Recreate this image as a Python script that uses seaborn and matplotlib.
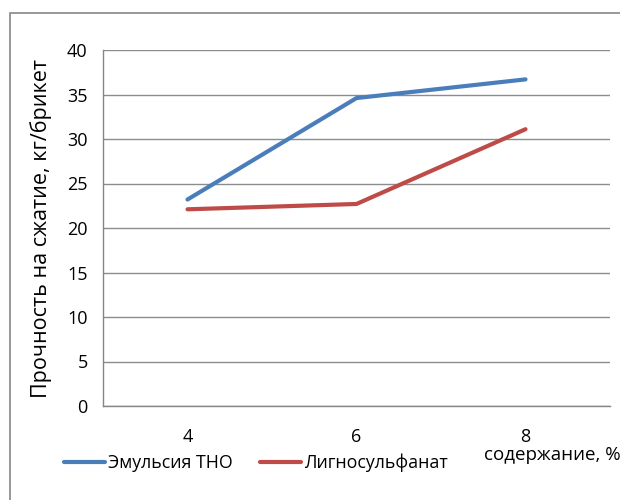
import matplotlib
matplotlib.use("Agg")
import matplotlib.pyplot as plt
import seaborn as sns
import pandas as pd
from matplotlib.patches import Rectangle
from matplotlib.lines import Line2D

categories = ["4", "6", "8"]
emulsion = [23.2, 34.6, 36.7]
lignosulfonate = [22.1, 22.7, 31.1]
series_names = ["Эмульсия ТНО", "Лигносульфанат"]
colors = ["#4a7ebb", "#be4b48"]

df = pd.DataFrame({
    "x": list(range(len(categories))) * 2,
    "y": emulsion + lignosulfonate,
    "s": [series_names[0]] * 3 + [series_names[1]] * 3,
})

sns.set_style("white")
plt.rcParams["font.family"] = ["Open Sans", "DejaVu Sans"]
plt.rcParams["text.color"] = "black"
plt.rcParams["axes.labelcolor"] = "black"
plt.rcParams["xtick.color"] = "black"
plt.rcParams["ytick.color"] = "black"

fig = plt.figure(figsize=(6.2, 5), dpi=100)
ax = fig.add_axes([103/620, 94/500, 507/620, 356/500])

sns.lineplot(data=df, x="x", y="y", hue="s", palette=colors, linewidth=3,
             ax=ax, legend=False, sort=False)

ax.set_xlim(-0.5, 2.5)
ax.set_ylim(0, 40)
ax.set_yticks(range(0, 41, 5))
ax.set_xticks([-0.5, 0.5, 1.5, 2.5])
ax.set_xticklabels([])
ax.set_xticks(range(3), minor=True)
ax.set_xticklabels(categories, minor=True)
ax.tick_params(axis="x", which="minor", length=0, pad=16, labelsize=13, labelcolor="black")
ax.tick_params(axis="x", which="major", length=5, color="#868686", direction="out")
ax.tick_params(axis="y", length=5, color="#868686", direction="out", labelsize=13, pad=6,
               labelcolor="black")
ax.grid(axis="y", color="#8c8c8c", linewidth=1)
ax.set_axisbelow(True)
for side in ["top", "right"]:
    ax.spines[side].set_visible(False)
for side in ["left", "bottom"]:
    ax.spines[side].set_color("#868686")
    ax.spines[side].set_linewidth(1)

ax.set_xlabel("")
ax.set_ylabel("Прочность на сжатие, кг/брикет", fontsize=15.5, labelpad=11, color="black")
fig.text(621/620, (500-455)/500, "содержание, %", ha="right", va="center", fontsize=13.5,
         color="black")

handles = [Line2D([0], [0], color=c, lw=3) for c in colors]
leg = fig.legend(handles, series_names, loc="center left", bbox_to_anchor=(48/620, (500-463)/500),
                 ncol=2, frameon=False, handlelength=2.3, handletextpad=0.2, columnspacing=1.5,
                 prop={"size": 12.8})
for t in leg.get_texts():
    t.set_color("black")

fig.patches.append(Rectangle((10/620, -0.05), 1.0, (500-13)/500 + 0.05, transform=fig.transFigure,
                             fill=False, edgecolor="#868686", linewidth=1.2))

fig.savefig("out.png", dpi=100)
